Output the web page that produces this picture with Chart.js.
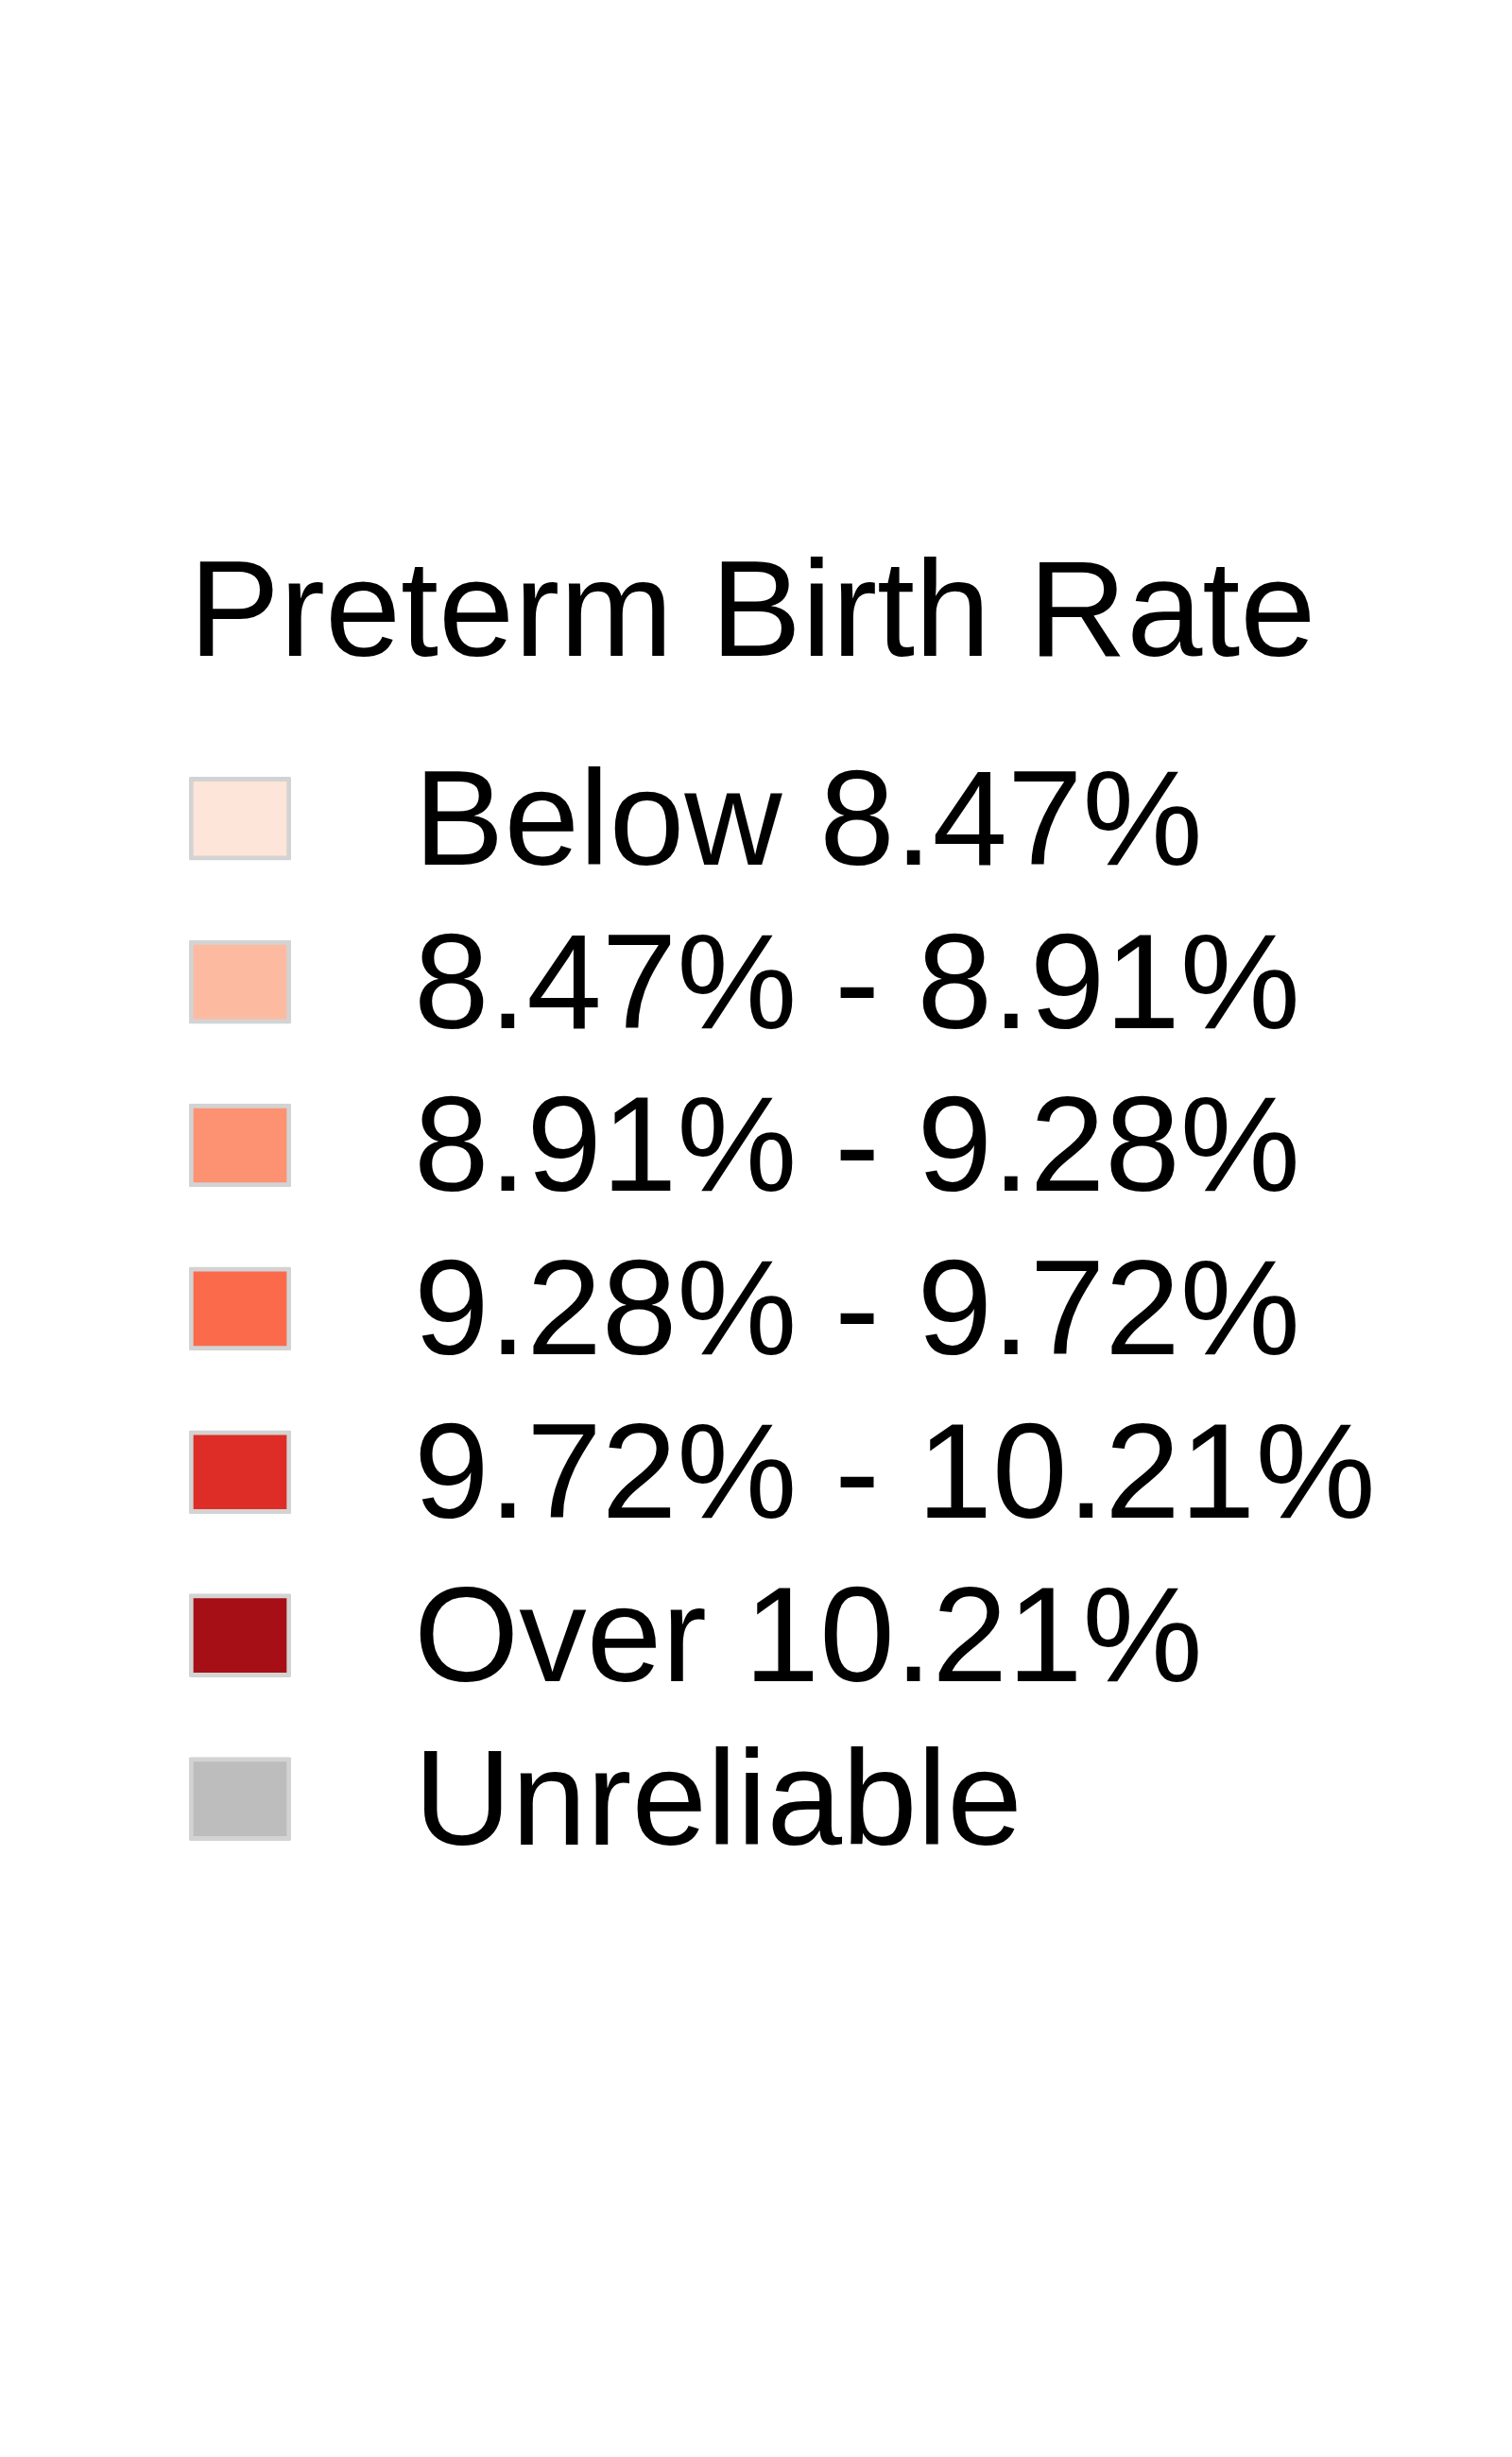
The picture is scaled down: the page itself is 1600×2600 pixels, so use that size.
<!DOCTYPE html>
<html>
<head>
<meta charset="utf-8">
<title>Preterm Birth Rate</title>
<script src="https://cdn.jsdelivr.net/npm/chart.js@4"></script>
<style>
  html, body { margin: 0; padding: 0; background: #fff; }
  canvas { display: block; }
</style>
</head>
<body>
<canvas id="legendCanvas" width="1600" height="2600"></canvas>
<script>
  // Legend classes and their colours
  const titleText = "Preterm Birth Rate";
  const categories = [
    "Below 8.47%",
    "8.47% - 8.91%",
    "8.91% - 9.28%",
    "9.28% - 9.72%",
    "9.72% - 10.21%",
    "Over 10.21%",
    "Unreliable"
  ];
  const swatchColors = ["#fee5d9", "#fcbba1", "#fc9272", "#fb6a4a", "#de2d26", "#a50f15", "#bdbdbd"];
  // every key box is drawn full width
  const swatchValues = [1, 1, 1, 1, 1, 1, 1];

  const fontFamily = "'Liberation Sans', Arial, sans-serif";

  // Draws the legend as a horizontal bar chart: boxes are bars, labels are the y ticks
  const legendCanvas = document.getElementById("legendCanvas");
  const legendChart = new Chart(legendCanvas, {
    type: "bar",
    data: {
      labels: categories,
      datasets: [{
        data: swatchValues,
        backgroundColor: swatchColors,
        borderColor: "#d3d3d3",
        borderWidth: 5,
        borderSkipped: false,
        borderRadius: 2,
        barThickness: 88
      }]
    },
    options: {
      indexAxis: "y",
      responsive: false,
      animation: false,
      events: [],
      layout: {
        padding: { left: 200, right: 0, top: 0, bottom: 610 }
      },
      plugins: {
        legend: { display: false },
        tooltip: { enabled: false },
        title: {
          display: true,
          text: titleText,
          align: "start",
          color: "#000",
          font: { family: fontFamily, size: 144, weight: "normal" },
          padding: { top: 568, bottom: 39 }
        }
      },
      scales: {
        x: {
          display: false,
          min: 0,
          max: 1
        },
        y: {
          position: "right",
          grid: { display: false, drawTicks: false },
          border: { display: false },
          ticks: {
            autoSkip: false,
            padding: 130,
            labelOffset: 9,
            color: "#000",
            font: { family: fontFamily, size: 143 }
          },
          afterFit: scale => { scale.width = 1292; }
        }
      }
    }
  });
</script>
</body>
</html>
